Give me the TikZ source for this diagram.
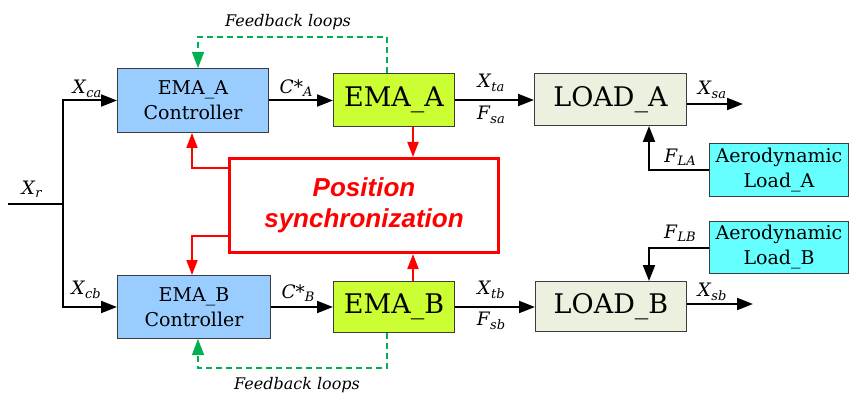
\documentclass[tikz,border=0pt]{standalone}
\usepackage{fontspec}
\setmainfont{DejaVu Serif}
\newfontfamily\syncfont{Liberation Sans}
\usetikzlibrary{arrows.meta}
\definecolor{ctrlblue}{RGB}{153,204,255}
\definecolor{emagreen}{RGB}{204,255,51}
\definecolor{loadgray}{RGB}{235,241,222}
\definecolor{aerocyan}{RGB}{102,255,255}
\definecolor{fbgreen}{RGB}{0,176,80}
\definecolor{boxedge}{RGB}{60,60,60}
\newcommand\sig[2]{\textit{#1}\raisebox{-0.35ex}{\fontsize{13}{13}\selectfont\textit{#2}}}
\tikzset{
  blk/.style={draw=boxedge, line width=1pt, anchor=north west, inner sep=0pt, align=center},
  ctrlbox/.style={blk, fill=ctrlblue, font=\fontsize{19}{25}\selectfont},
  emabox/.style={blk, fill=emagreen, font=\fontsize{27}{30}\selectfont},
  loadbox/.style={blk, fill=loadgray, font=\fontsize{27}{30}\selectfont},
  aerobox/.style={blk, fill=aerocyan, font=\fontsize{19}{25}\selectfont},
  syncbox/.style={draw=red, line width=3pt, anchor=north west, inner sep=0pt, align=center,
     text=red, font=\syncfont\bfseries\itshape\fontsize{26}{31}\selectfont},
  arr/.style={line width=2pt, -{Triangle[length=16pt,width=12pt]}},
  plain/.style={line width=2pt},
  redarr/.style={draw=red, line width=2pt, -{Triangle[length=15pt,width=11pt]}},
  fb/.style={draw=fbgreen, line width=1.3pt, dash pattern=on 6pt off 4pt, -{Triangle[length=16pt,width=12pt,fill=fbgreen]}},
  lbl/.style={inner sep=0pt, font=\fontsize{18.5}{18.5}\selectfont},
  fblbl/.style={inner sep=0pt, font=\itshape\fontsize{16}{16}\selectfont},
}
\begin{document}
\begin{tikzpicture}[x=1pt,y=-1pt]
\useasboundingbox (0,0) rectangle (849,393);
% blocks
\node[ctrlbox, minimum width=151pt, minimum height=64pt] (ctrlA) at (117,68) {EMA\_A\\Controller};
\node[ctrlbox, minimum width=153pt, minimum height=63pt] (ctrlB) at (117,275) {EMA\_B\\Controller};
\node[emabox, minimum width=121pt, minimum height=53pt] (emaA) at (333,73) {EMA\_A};
\node[emabox, minimum width=121pt, minimum height=51pt] (emaB) at (333,281) {EMA\_B};
\node[loadbox, minimum width=152pt, minimum height=52pt] (loadA) at (534,73) {LOAD\_A};
\node[loadbox, minimum width=151pt, minimum height=50pt] (loadB) at (535,281) {LOAD\_B};
\node[aerobox, minimum width=139pt, minimum height=53pt] (aeroA) at (709,143) {Aerodynamic\\Load\_A};
\node[aerobox, minimum width=139pt, minimum height=52pt] (aeroB) at (709,221) {Aerodynamic\\Load\_B};
\node[syncbox, minimum width=269pt, minimum height=94pt] (sync) at (228,157) {Position\\synchronization};
% coordinates
\coordinate (xr) at (8,204);
\coordinate (br) at (63,204);
\coordinate (outA) at (743,104);
\coordinate (outB) at (753,304);
\coordinate (fa) at (649,170);
\coordinate (fbA1) at (387,37);
\coordinate (fbA2) at (198,37);
\coordinate (fbB1) at (387,368);
\coordinate (fbB2) at (198,368);
\coordinate (rx) at (413,0);
\coordinate (rcA) at (192,168);
\coordinate (rcB) at (192,236);
% black connectors
\draw[plain] (xr) -- (br);
\draw[arr] (br) |- (ctrlA.west);
\draw[arr] (br) |- (ctrlB.west);
\draw[arr] (ctrlA.east) -- (ctrlA.east -| emaA.west);
\draw[arr] (ctrlB.east) -- (ctrlB.east -| emaB.west);
\draw[arr] (emaA.east) -- (emaA.east -| loadA.west);
\draw[arr] (emaB.east) -- (emaB.east -| loadB.west);
\draw[arr] (outA -| loadA.east) -- (outA);
\draw[arr] (outB -| loadB.east) -- (outB);
\draw[arr] (aeroA.west) -| (fa |- loadA.south);
\draw[arr] (aeroB.west) -| (fa |- loadB.north);
% feedback loops
\draw[fb] (fbA1 |- emaA.north) -- (fbA1) -- (fbA2) -- (fbA2 |- ctrlA.north);
\draw[fb] (fbB1 |- emaB.south) -- (fbB1) -- (fbB2) -- (fbB2 |- ctrlB.south);
% red sync connectors
\draw[redarr] (rx |- emaA.south) -- (rx |- sync.north);
\draw[redarr] (rx |- emaB.north) -- (rx |- sync.south);
\draw[redarr] (rcA -| sync.west) -- (rcA) -- (rcA |- ctrlA.south);
\draw[redarr] (rcB -| sync.west) -- (rcB) -- (rcB |- ctrlB.north);
% labels
\node[lbl] (lxr) at (32,189) {\sig{X}{r}};
\node[lbl] (lxca) at (87,89) {\sig{X}{ca}};
\node[lbl] (lxcb) at (86,290) {\sig{X}{cb}};
\node[lbl] (lca) at (296,88) {\sig{C*}{A}};
\node[lbl] (lcb) at (298,293) {\sig{C*}{B}};
\node[lbl] (lxta) at (491,83) {\sig{X}{ta}};
\node[lbl] (lfsa) at (491,115) {\sig{F}{sa}};
\node[lbl] (lxtb) at (491,290) {\sig{X}{tb}};
\node[lbl] (lfsb) at (491,321) {\sig{F}{sb}};
\node[lbl] (lxsa) at (712,90) {\sig{X}{sa}};
\node[lbl] (lxsb) at (712,292) {\sig{X}{sb}};
\node[lbl] (lfla) at (680,157) {\sig{F}{LA}};
\node[lbl] (lflb) at (680,233) {\sig{F}{LB}};
\node[fblbl] (fbtA) at (288,22) {Feedback loops};
\node[fblbl] (fbtB) at (297,385) {Feedback loops};
\end{tikzpicture}
\end{document}
